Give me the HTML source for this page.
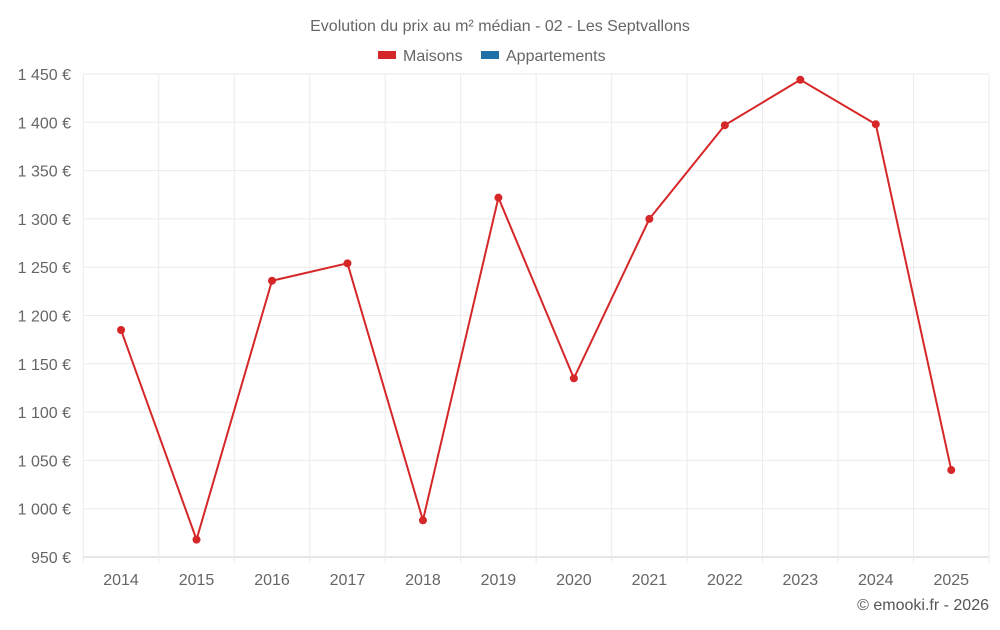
<!DOCTYPE html>
<html><head><meta charset="utf-8"><style>
body{margin:0;background:#fff;width:1000px;height:625px;overflow:hidden;font-family:"Liberation Sans",sans-serif}
</style></head><body>
<svg id="c" width="1000" height="625" style="font-family:'Liberation Sans',sans-serif">
<text x="500" y="31" text-anchor="middle" font-size="16" fill="#666">Evolution du prix au m² médian - 02 - Les Septvallons</text>
<g><rect x="378" y="51" width="18" height="8" fill="#d62728"/><text x="403" y="61" font-size="16" fill="#666">Maisons</text></g>
<g><rect x="481" y="51" width="18" height="8" fill="#1f6fa8"/><text x="506" y="61" font-size="16" fill="#666">Appartements</text></g>
<g id="grid"></g><g id="axes"></g><g id="series"></g>
<text x="989" y="610" text-anchor="end" font-size="16" fill="#555">© emooki.fr - 2026</text>
</svg>
<script>
const categories=["2014","2015","2016","2017","2018","2019","2020","2021","2022","2023","2024","2025"];
const maisons=[1185,968,1236,1254,988,1322,1135,1300,1397,1444,1398,1040];
const yTicks=[950,1000,1050,1100,1150,1200,1250,1300,1350,1400,1450];
const yMin=950,yMax=1450;
const L=83.3,R=989,T=74,B=557;
const bw=(R-L)/categories.length;
const xs=i=>L+bw*(i+0.5);
const ys=v=>B-(v-yMin)/(yMax-yMin)*(B-T);
const NS="http://www.w3.org/2000/svg";
function mk(t,a,p){const e=document.createElementNS(NS,t);for(const k in a)e.setAttribute(k,a[k]);p.appendChild(e);return e;}
const g=document.getElementById('grid'),ax=document.getElementById('axes'),s=document.getElementById('series');
yTicks.forEach(v=>{
 const l=mk('line',{x1:L,x2:R,y1:ys(v),y2:ys(v),stroke:v==yMin?'#ccc':'#ebebeb'},g);
 
 
 const t=mk('text',{x:71,y:ys(v)+6,'text-anchor':'end','font-size':16,fill:'#666'},ax);
 t.textContent=v.toLocaleString('fr-FR').replace(/\s|\u202f/g,' ')+' €';
 
 
});
for(let i=0;i<=categories.length;i++){
 const l=mk('line',{x1:L+bw*i,x2:L+bw*i,y1:T,y2:B+6,stroke:'#ebebeb'},g);
 
 
}
categories.forEach((c,i)=>{
 const t=mk('text',{x:xs(i),y:585,'text-anchor':'middle','font-size':16,fill:'#666'},ax);
 t.textContent=c;
 
 
});
const p=mk('polyline',{points:maisons.map((v,i)=>xs(i)+','+ys(v)).join(' '),fill:'none',stroke:'#d62728','stroke-width':2},s);


maisons.forEach((v,i)=>{
 const c=mk('circle',{cx:xs(i),cy:ys(v),r:4,fill:'#d62728'},s);
 
 
});
</script>
</body></html>
